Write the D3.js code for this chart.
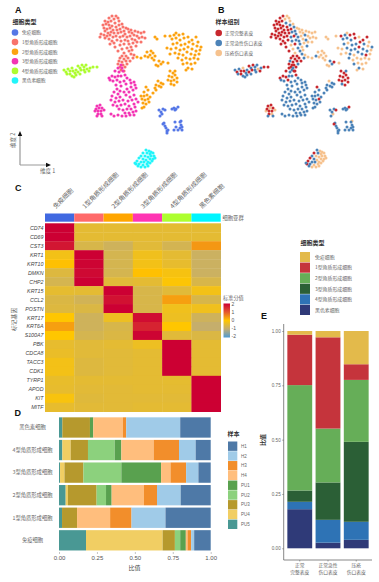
<!DOCTYPE html>
<html><head><meta charset="utf-8">
<script src="https://cdn.jsdelivr.net/npm/d3@7"></script>
<style>
html,body{margin:0;padding:0;background:#fff}
svg{display:block}
text{font-family:"Noto Sans CJK SC","Liberation Sans",sans-serif}
.lat{font-family:"Liberation Sans",Arial,sans-serif}
</style></head><body>
<svg id="c" width="379" height="582"></svg>
<script>
// ---------- data ----------
const cellTypes = ["免疫细胞","1型角质形成细胞","2型角质形成细胞","3型角质形成细胞","4型角质形成细胞","黑色素细胞"];
const typeColors = ["#5577E6","#F8736B","#FCA311","#F335B4","#ADFC2F","#22F5FA"];
const groupNames = ["正常完整表皮","正常急性伤口表皮","压疮伤口表皮"];
const groupColors = ["#C8282E","#4C83B8","#F6C28E"];
// UMAP-like points: [dim1, dim2, sample group]
const immunePts = [[159,110,1],[161,112,1],[163,109,1],[165,110,0],[162,114,2],[160,116,1],[174,108,1],[176,109,1],[178,107,0],[175,110,1],[172,109,1],[164,123,1],[165,126,1],[166,128,1],[167,131,1],[163,124,0],[168,130,1],[167,133,1],[175,122,1],[176,127,1],[180,122,1],[181,125,1],[180,128,1],[182,127,1],[178,130,1],[182,130,1],[181,121,2],[174,130,1]];
const k1Pts = [[112,16,0],[116,16,2],[109,18,0],[114,19,2],[118,18,2],[105,21,0],[108,22,0],[111,21,0],[115,23,1],[119,21,2],[122,24,2],[103,25,0],[106,24,0],[109,25,0],[112,26,0],[116,27,0],[119,25,1],[123,27,1],[126,28,2],[104,28,0],[107,29,0],[110,28,0],[113,30,0],[117,30,0],[120,29,0],[124,31,1],[128,29,2],[131,30,2],[105,31,0],[108,33,0],[111,32,0],[114,33,0],[118,33,0],[121,32,1],[125,34,1],[129,32,2],[132,33,2],[135,31,2],[138,32,2],[101,34,0],[104,35,0],[107,36,0],[110,35,0],[113,37,0],[116,36,0],[120,37,1],[123,36,0],[127,37,1],[130,36,2],[134,35,1],[137,36,2],[141,33,2],[144,32,2],[100,37,0],[105,38,0],[109,39,0],[112,41,0],[117,40,0],[121,41,1],[125,40,1],[128,41,1],[132,39,2],[135,40,1],[139,38,2],[142,37,2],[145,38,2],[110,44,0],[114,43,0],[120,45,2],[124,44,0],[129,44,1],[133,43,2],[137,42,2],[141,42,2],[115,47,0],[122,49,2],[127,48,1],[131,47,2],[136,46,1],[118,51,0],[124,53,2],[129,51,1],[132,50,2],[122,56,0],[126,56,0],[131,54,1],[134,55,2],[120,58,0],[124,59,0],[128,58,0],[133,58,1],[119,61,1],[122,62,0],[126,61,0],[130,61,0],[118,64,0],[123,65,0],[127,64,1],[120,67,0],[125,67,0],[121,70,1],[124,71,0]];
const k2Pts = [[137,57,2],[141,58,2],[145,56,1],[148,57,2],[150,55,2],[152,58,2],[154,60,2],[147,52,2],[151,51,2],[153,53,2],[155,56,2],[159,61,1],[161,64,1],[158,66,2],[163,62,0],[156,65,2],[165,36,2],[170,36,0],[155,37,2],[157,39,2],[167,48,2],[170,54,2],[168,63,2],[176,33,2],[174,35,1],[179,35,0],[183,34,0],[172,39,1],[176,38,1],[180,40,1],[184,38,0],[188,37,2],[192,40,0],[196,37,0],[198,42,2],[201,47,1],[173,44,1],[177,43,2],[181,45,1],[185,44,1],[189,42,0],[193,44,1],[197,46,2],[171,49,2],[176,48,1],[180,50,1],[184,49,1],[188,47,0],[192,49,1],[196,51,1],[200,50,2],[175,53,2],[179,54,1],[183,55,2],[187,52,1],[191,54,1],[195,55,0],[199,54,2],[178,58,1],[182,60,2],[186,58,2],[190,59,2],[194,58,2],[198,59,2],[183,64,1],[187,63,2],[191,64,2],[195,63,2],[188,68,1],[192,69,2],[186,70,2],[170,71,0],[173,73,0],[175,71,1],[169,76,0],[172,77,0],[175,75,0],[177,78,0],[168,80,0],[171,81,0],[174,80,0],[177,82,0],[171,84,1],[174,85,0],[158,81,2],[161,83,1],[156,85,1],[159,86,1],[163,84,1],[161,87,1],[156,90,1],[153,93,1],[155,88,1],[146,87,0],[148,90,1],[144,92,1],[141,96,1],[144,96,1],[147,95,1],[150,97,1],[142,99,1],[145,100,1],[148,99,0],[143,103,1],[146,104,1],[149,102,1],[144,107,1],[142,108,1]];
const k3Pts = [[121,65,0],[118,68,0],[122,68,1],[115,71,0],[119,72,1],[123,71,0],[109,78,0],[112,76,0],[115,77,0],[118,76,1],[121,76,1],[125,75,0],[110,80,1],[113,81,1],[117,80,0],[120,82,1],[124,81,1],[127,78,1],[130,80,1],[116,85,1],[121,86,1],[126,84,1],[131,83,1],[134,82,1],[117,89,1],[120,91,1],[127,89,1],[131,87,1],[135,85,1],[114,92,1],[118,94,1],[124,92,1],[129,92,1],[133,90,1],[136,88,1],[112,96,1],[116,98,1],[120,97,1],[126,95,1],[130,97,1],[134,95,1],[111,100,1],[115,102,1],[119,101,1],[123,100,1],[128,101,1],[132,100,1],[136,99,1],[113,105,1],[117,106,1],[121,105,1],[125,104,1],[129,106,1],[134,104,1],[138,102,1],[119,109,1],[123,110,1],[127,109,1],[131,109,1],[135,107,1],[125,113,1],[129,113,1],[133,112,1],[136,111,1],[111,114,1],[114,116,1],[118,115,1],[122,116,1],[126,116,1],[130,115,1],[134,115,1],[97,106,0],[100,105,0],[96,109,0],[99,108,2],[102,108,0],[95,111,2],[98,111,0],[101,111,0],[104,110,2],[98,114,0],[101,114,2],[97,116,1],[102,116,1]];
const k4Pts = [[64,70,1],[66,72,0],[68,69,1],[70,71,0],[67,74,1],[70,74,0],[72,76,1],[74,77,1],[75,73,1],[73,71,0],[76,70,1],[78,72,0],[80,68,1],[78,66,0],[82,65,0],[84,67,1],[86,65,1],[81,70,0],[84,70,1],[87,69,2],[90,68,1],[93,67,0],[85,72,1],[89,71,0],[72,68,2],[76,75,1],[80,74,1],[97,67,0]];
const melPts = [[146,150,1],[149,151,2],[151,152,2],[143,153,0],[147,153,1],[150,154,2],[153,153,2],[141,156,1],[145,156,2],[148,157,2],[151,156,2],[154,156,2],[139,158,0],[143,159,1],[146,160,2],[150,159,2],[153,159,2],[155,158,2],[137,161,0],[141,162,1],[144,162,1],[148,162,2],[152,161,2],[136,164,0],[139,164,1],[143,165,2],[147,164,2],[150,163,2],[135,163,1],[138,166,1],[141,167,2],[145,167,2],[148,166,2]];
const clusterPts = [k1Pts,k2Pts,k3Pts,k4Pts,immunePts,melPts];
const clusterIdx = [1,2,3,4,0,5];

const genes = ["CD74","CD69","CST3","KRT1","KRT10","DMKN","CHP2","KRT15","CCL2","POSTN","KRT17","KRT6A","S100A7","PBK","CDCA8","TACC3","CDK1","TYRP1","APOD","KIT","MITF"];
const heatValues = [
[2,-.45,-.45,-.45,-.45,-.45],
[2,-.45,-.45,-.45,-.45,-.45],
[1.75,-.65,-.8,-.5,-.72,.42],
[-.2,2,-.7,-.25,-.45,-.85],
[.05,1.95,-.7,-.2,-.4,-.85],
[-.55,1.9,-.7,.05,-.15,-.85],
[-.7,2,-.5,-.45,-.05,-.65],
[-.42,-.45,2,-.65,-.5,-.2],
[-.6,-.75,1.8,-.65,.35,-.65],
[-.55,-.6,2,-.65,-.25,-.25],
[0,-.8,-.3,1.85,-.3,-.8],
[.35,-.8,-.65,1.6,0,-.95],
[0,-.7,-.6,1.95,-.5,-.6],
[-.4,-.5,-.45,-.3,2,-.45],
[-.35,-.5,-.5,-.45,2,-.45],
[-.2,-.55,-.5,-.45,2,-.45],
[-.2,-.55,-.5,-.45,2,-.45],
[-.38,-.45,-.45,-.45,-.42,2],
[-.4,-.48,-.48,-.45,-.45,2],
[-.12,-.52,-.48,-.48,-.48,2],
[-.4,-.48,-.48,-.45,-.45,2]];
const heatStops = [-2,-1,0,1,2];
const heatStopColors = ["#4E9BD4","#C2AD72","#FFC600","#E4572E","#CC0033"];
const heatTicks = [2,1,0,-1,-2];
const annotColors = ["#4169E1","#FF6A6A","#FFA500","#FF34B3","#ADFF2F","#00F5FF"];

const samples = ["PU5","PU4","PU3","PU2","PU1","H4","H3","H2","H1"];
const sampleColors = {H1:"#4E79A7",H2:"#A0CBE8",H3:"#F28E2B",H4:"#FFBE7D",PU1:"#59A14F",PU2:"#8CD17D",PU3:"#B6992D",PU4:"#F1CE63",PU5:"#499894"};
const legendSamples = ["H1","H2","H3","H4","PU1","PU2","PU3","PU4","PU5"];
const dRows = ["黑色素细胞","4型角质形成细胞","3型角质形成细胞","2型角质形成细胞","1型角质形成细胞","免疫细胞"];
const dMel = [.022,0,.182,0,.022,.195,.022,.356,.201];
const dK4  = [.022,.055,.114,.176,.044,.213,.167,.11,.099];
const dK3  = [.007,.029,.125,.25,.262,.062,.103,.081,.081];
const dK2  = [.044,.015,.189,.062,.037,.213,.086,.156,.198];
const dK1  = [.02,0,.099,0,0,.218,.141,.224,.298];
const dImm = [.178,.505,.081,.035,.037,.011,.024,.02,.109];
const dValues = [dMel,dK4,dK3,dK2,dK1,dImm];
const dTicks = [0,.25,.5,.75,1];

const eBars = ["a","b","c"];
const eLabels = [["正常","完整表皮"],["正常急性","伤口表皮"],["压疮","伤口表皮"]];
const eLayers = ["黑色素细胞","4型角质形成细胞","3型角质形成细胞","2型角质形成细胞","1型角质形成细胞","免疫细胞"];
const eColors = ["#2F3A78","#2E73B5","#2B5F36","#66AE58","#C5343C","#E3BA4B"];
const eNormal = [.18,.034,.052,.485,.232,.017];
const eAcute  = [.026,.105,.172,.248,.42,.029];
const ePU     = [.039,.083,.368,.285,.072,.153];
const eValues = [eNormal,eAcute,ePU];
const eTicks = [0,.25,.5,.75,1];
const eLegend = ["免疫细胞","1型角质形成细胞","2型角质形成细胞","3型角质形成细胞","4型角质形成细胞","黑色素细胞"];
const eLegendColors = ["#E3BA4B","#C5343C","#66AE58","#2B5F36","#2E73B5","#2F3A78"];

// ---------- helpers ----------
const svg = d3.select("#c");
function T(x,y,s,o={}){
  const t = svg.append("text").attr("x",x).attr("y",y).text(s)
    .attr("font-size",o.size||5).attr("fill",o.fill||"#666")
    .attr("text-anchor",o.anchor||"start").attr("font-weight",o.weight||400);
  if(o.lat) t.attr("class","lat");
  if(o.italic) t.attr("font-style","italic");
  if(o.rot!==undefined) t.attr("transform",`rotate(${o.rot} ${x} ${y})`);
  return t;
}
const letter = (x,y,s)=>T(x,y,s,{size:9,fill:"#111",weight:700,lat:true});

// ---------- panel A and B ----------
const dim1 = d3.scaleLinear().domain([60,205]);
const dim2 = d3.scaleLinear().domain([10,170]).range([10,170]);
const xA = dim1.copy().range([60,205]);
const xB = dim1.copy().range([231,376]);
const gB = svg.append("g"), gA = svg.append("g");
clusterPts.forEach((pts,i)=>{
  gA.selectAll(null).data(pts).join("circle")
    .attr("cx",d=>xA(d[0])).attr("cy",d=>dim2(d[1])).attr("r",1.55)
    .attr("fill",typeColors[clusterIdx[i]]);
});
const allPts = clusterPts.flat();
gB.selectAll("circle").data(allPts.slice().sort((a,b)=>(b[2]===2)-(a[2]===2))).join("circle")
  .attr("cx",d=>xB(d[0])).attr("cy",d=>dim2(d[1])).attr("r",1.5)
  .attr("fill",d=>groupColors[d[2]]);

letter(15,13,"A");
T(12.5,24,"细胞类型",{size:6,fill:"#333",weight:700});
const aLegY = d3.scaleLinear().domain([0,5]).range([32.5,80.5]);
cellTypes.forEach((n,i)=>{
  svg.append("circle").attr("cx",15).attr("cy",aLegY(i)).attr("r",3.3).attr("fill",typeColors[i]);
  T(22,aLegY(i)+1.8,n,{size:4.7});
});
// dimension arrows
svg.append("path").attr("d","M20,165V134M20,165H48").attr("stroke","#999").attr("stroke-width",1.2).attr("fill","none");
svg.append("path").attr("d","M17.8,136L20,131L22.2,136ZM46,162.8L51,165L46,167.2Z").attr("fill","#111");
T(14.5,148,"维度 2",{size:5.5,rot:-90});
T(40,173,"维度 1",{size:5.5});

letter(218,13,"B");
T(215.5,24,"样本组别",{size:6,fill:"#333",weight:700});
const bLegY = d3.scaleLinear().domain([0,2]).range([33,53]);
groupNames.forEach((n,i)=>{
  svg.append("circle").attr("cx",218.7).attr("cy",bLegY(i)).attr("r",3.3).attr("fill",groupColors[i]);
  T(225,bLegY(i)+1.8,n,{size:4.7});
});

// ---------- panel C ----------
letter(15,191,"C");
const hx = d3.scaleBand().domain(d3.range(6)).range([45,220.7]);
const hy = d3.scaleBand().domain(genes).range([223.3,411.7]);
const hc = d3.scaleLinear().domain(heatStops).range(heatStopColors);
svg.append("g").selectAll("rect").data(annotColors).join("rect")
  .attr("x",(d,i)=>hx(i)).attr("y",213.5).attr("width",hx.bandwidth()).attr("height",8.2).attr("fill",d=>d);
T(222.5,219.5,"细胞亚群",{size:5.3});
cellTypes.forEach((n,i)=>T(hx(i)+hx.bandwidth()/2-4,209,n,{size:6.4,rot:-45}));
heatValues.forEach((row,r)=>{
  svg.append("g").selectAll("rect").data(row).join("rect")
    .attr("x",(d,i)=>hx(i)).attr("y",hy(genes[r]))
    .attr("width",hx.bandwidth()+.3).attr("height",hy.bandwidth()+.3)
    .attr("fill",d=>hc(d));
  T(43.5,hy(genes[r])+hy.bandwidth()/2+2,genes[r],{size:5.3,anchor:"end",italic:true,lat:true,fill:"#444"});
});
T(15.5,331,"标记基因",{size:5.8,rot:-90,fill:"#555"});
T(223,300,"标准分值",{size:5.2});
const defs = svg.append("defs");
const lg = defs.append("linearGradient").attr("id","hg").attr("x1",0).attr("x2",0).attr("y1",1).attr("y2",0);
const cbY = d3.scaleLinear().domain([-2,2]).range([336.5,304.5]);
heatStops.forEach((v,i)=>lg.append("stop").attr("offset",(v+2)/4).attr("stop-color",heatStopColors[i]));
svg.append("rect").attr("x",223.5).attr("y",cbY(2)-1).attr("width",6.5).attr("height",cbY(-2)-cbY(2)+2).attr("fill","url(#hg)");
heatTicks.forEach(v=>T(231.5,cbY(v)+1.8,String(v),{size:5,lat:true,fill:"#555"}));

// ---------- panel D ----------
letter(14.5,416,"D");
const dx = d3.scaleLinear().domain([0,1]).range([59,210.7]);
const dy = d3.scaleBand().domain(dRows).range([416.2,551.6]).paddingInner(.1).paddingOuter(.05);
const dTable = dRows.map((r,i)=>{const o={row:r};samples.forEach((s,j)=>o[s]=dValues[i][j]);return o;});
const dSeries = d3.stack().keys(samples)(dTable);
svg.append("g").selectAll("g").data(dSeries).join("g").attr("fill",d=>sampleColors[d.key])
  .selectAll("rect").data(d=>d).join("rect")
  .attr("x",d=>dx(d[0])).attr("width",d=>dx(d[1])-dx(d[0]))
  .attr("y",d=>dy(d.data.row)).attr("height",dy.bandwidth());
dRows.forEach(r=>T(32.5,dy(r)+dy.bandwidth()/2+1.8,r,{size:5.3,anchor:"middle"}));
const dAxis = svg.append("g").attr("transform","translate(0,552)")
  .call(d3.axisBottom(dx).tickValues(dTicks).tickFormat(d3.format(".2f")).tickSize(2).tickPadding(1.5));
dAxis.select(".domain").remove();
dAxis.selectAll("line").attr("stroke","#888").attr("stroke-width",.5);
dAxis.selectAll("text").attr("class","lat").attr("font-size",6).attr("fill","#555");
T(134.5,570,"比值",{size:6,anchor:"middle",fill:"#444"});
T(227.5,436,"样本",{size:6,fill:"#333",weight:700});
const sy = d3.scaleBand().domain(legendSamples).range([441.5,529]).paddingInner(.04);
legendSamples.forEach(s=>{
  svg.append("rect").attr("x",228).attr("y",sy(s)).attr("width",9.3).attr("height",sy.bandwidth()).attr("fill",sampleColors[s]);
  T(241,sy(s)+sy.bandwidth()/2+1.6,s,{size:4.5,lat:true});
});

// ---------- panel E ----------
T(300.5,245,"细胞类型",{size:6,fill:"#333",weight:700});
const ely = d3.scaleBand().domain(eLegend).range([252,315]).paddingInner(.04);
eLegend.forEach((n,i)=>{
  svg.append("rect").attr("x",300).attr("y",ely(n)).attr("width",10).attr("height",ely.bandwidth()).attr("fill",eLegendColors[i]);
  T(315,ely(n)+ely.bandwidth()/2+1.8,n,{size:4.9});
});
letter(261,319,"E");
const ex = d3.scaleBand().domain(eBars).range([286.5,369.5]).paddingInner(.12).paddingOuter(.03);
const ey = d3.scaleLinear().domain([0,1]).range([548.3,331]);
const eTable = eBars.map((b,i)=>{const o={bar:b};eLayers.forEach((l,j)=>o[l]=eValues[i][j]);return o;});
const eSeries = d3.stack().keys(eLayers)(eTable);
svg.append("g").selectAll("g").data(eSeries).join("g").attr("fill",(d,i)=>eColors[i])
  .selectAll("rect").data(d=>d).join("rect")
  .attr("x",d=>ex(d.data.bar)).attr("width",ex.bandwidth())
  .attr("y",d=>ey(d[1])).attr("height",d=>ey(d[0])-ey(d[1]));
const eyAxis = svg.append("g").attr("transform","translate(283.7,0)")
  .call(d3.axisLeft(ey).tickValues(eTicks).tickFormat(d3.format(".2f")).tickSize(1.5).tickPadding(1.5));
eyAxis.select(".domain").attr("d","M0,324V560").attr("stroke","#555").attr("stroke-width",.7);
eyAxis.selectAll("line").attr("stroke","#555").attr("stroke-width",.5);
eyAxis.selectAll("text").attr("class","lat").attr("font-size",4.6).attr("fill","#666");
const exAxis = svg.append("g").attr("transform","translate(0,560)")
  .call(d3.axisBottom(ex).tickSize(1.5).tickFormat(""));
exAxis.select(".domain").attr("d","M283.7,0H372").attr("stroke","#555").attr("stroke-width",.7);
exAxis.selectAll("line").attr("stroke","#555").attr("stroke-width",.5);
eBars.forEach((b,i)=>{
  const c = ex(b)+ex.bandwidth()/2;
  T(c,567,eLabels[i][0],{size:4.8,anchor:"middle"});
  T(c,573.5,eLabels[i][1],{size:4.8,anchor:"middle"});
});
T(264.5,440,"比值",{size:6,anchor:"middle",rot:-90,fill:"#333",weight:700});
</script>
</body></html>
